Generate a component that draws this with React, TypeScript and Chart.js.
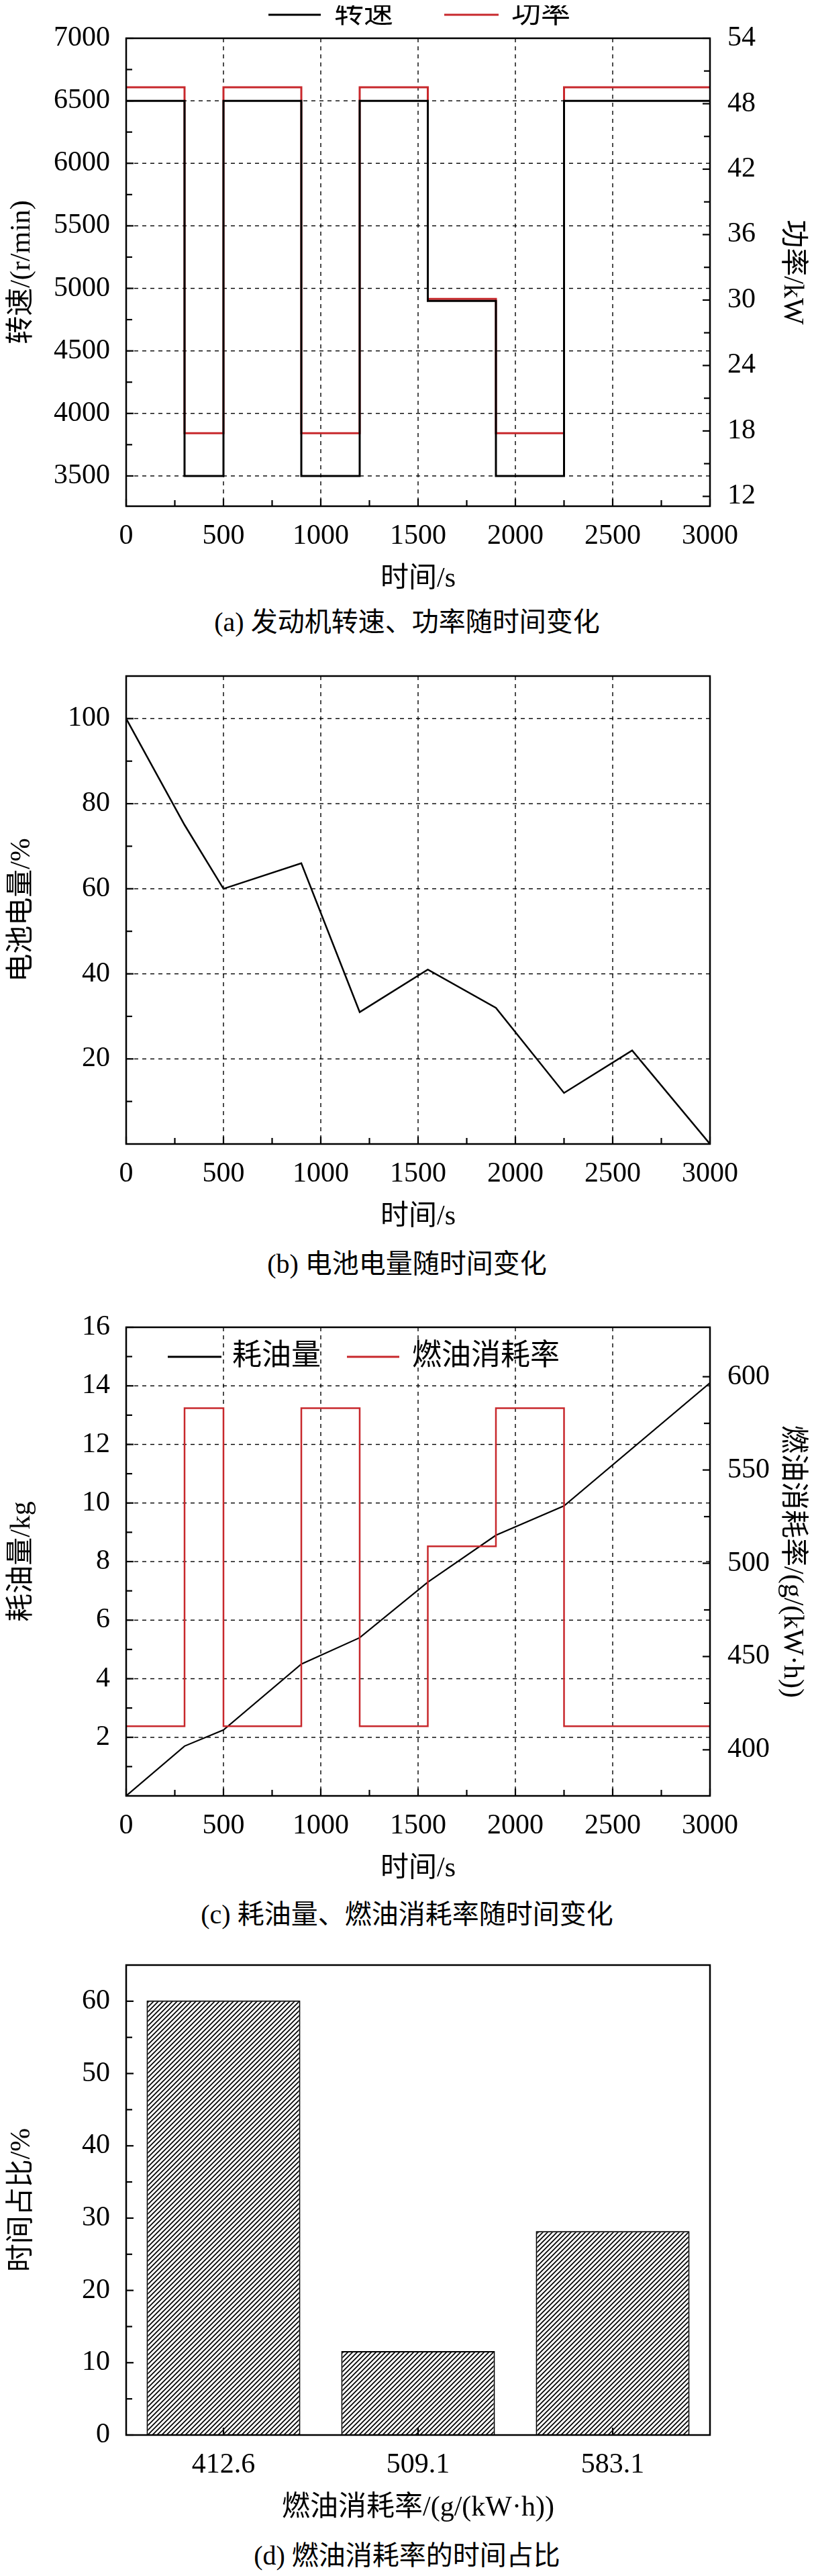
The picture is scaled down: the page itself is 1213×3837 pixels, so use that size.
import React, { useEffect, useRef } from "react";
import { Chart, registerables } from "chart.js";
Chart.register(...registerables);

const FONT = "'Liberation Serif','Noto Sans CJK SC',serif";
Chart.defaults.font.family = FONT;
Chart.defaults.color = "#000";

// ---- data ----
const timeTicks = [0, 500, 1000, 1500, 2000, 2500, 3000];
const timeMinor = [250, 750, 1250, 1750, 2250, 2750];
const stepTimes = [0, 300, 500, 900, 1200, 1550, 1900, 2250, 3000];
const speedValues = [6500, 6500, 3500, 6500, 3500, 6500, 4900, 3500, 6500];
const powerValues = [49.5, 49.5, 17.8, 49.5, 17.8, 49.5, 30.1, 17.8, 49.5];
const speedTicks = [3500, 4000, 4500, 5000, 5500, 6000, 6500, 7000];
const speedMinor = [3750, 4250, 4750, 5250, 5750, 6250, 6750];
const powerTicks = [12, 18, 24, 30, 36, 42, 48, 54];
const powerMinor = [15, 21, 27, 33, 39, 45, 51];

const socTimes = [0, 300, 500, 900, 1200, 1550, 1900, 2250, 2600, 3000];
const socValues = [100, 75, 60, 66, 31, 41, 32, 12, 22, 0];
const socTicks = [20, 40, 60, 80, 100];
const socMinor = [10, 30, 50, 70, 90];

const fuelTimes = [0, 300, 500, 900, 1200, 1550, 1900, 2250, 3000];
const fuelValues = [0, 1.7, 2.25, 4.5, 5.4, 7.3, 8.9, 9.9, 14.1];
const bsfcValues = [412.6, 412.6, 583.1, 412.6, 583.1, 412.6, 509.1, 583.1, 412.6];
const fuelTicks = [2, 4, 6, 8, 10, 12, 14, 16];
const fuelMinor = [1, 3, 5, 7, 9, 11, 13, 15];
const bsfcTicks = [400, 450, 500, 550, 600];
const bsfcMinor = [425, 475, 525, 575];

const barLabels = ["412.6", "509.1", "583.1"];
const barValues = [60.1, 11.6, 28.2];
const shareTicks = [0, 10, 20, 30, 40, 50, 60];
const shareMinor = [5, 15, 25, 35, 45, 55];

const RED = "#c8282c";
const W = 1197;

const pts = (xs: number[], ys: number[]) => xs.map((x, i) => ({ x, y: ys[i] }));
const setTicks = (vals: number[]) => (s: any) => {
  s.ticks = vals.map((v) => ({ value: v }));
};

const deco = {
  id: "deco",
  beforeDatasetsDraw(chart: any, _a: any, o: any) {
    const { ctx, chartArea: ca } = chart;
    ctx.save();
    ctx.strokeStyle = "#000";
    ctx.lineWidth = 1.4;
    ctx.setLineDash([6, 6]);
    (o.gridX || []).forEach((v: number) => {
      const x = chart.scales.x.getPixelForValue(v);
      ctx.beginPath(); ctx.moveTo(x, ca.top); ctx.lineTo(x, ca.bottom); ctx.stroke();
    });
    (o.gridY || []).forEach((v: number) => {
      const y = chart.scales.y.getPixelForValue(v);
      ctx.beginPath(); ctx.moveTo(ca.left, y); ctx.lineTo(ca.right, y); ctx.stroke();
    });
    ctx.restore();
  },
  afterDatasetsDraw(chart: any, _a: any, o: any) {
    const { ctx, chartArea: ca } = chart;
    ctx.save();
    ctx.strokeStyle = "#000";
    ctx.setLineDash([]);
    ctx.lineWidth = 2.2;
    (o.ticks || []).forEach((t: any) => {
      const sc = chart.scales[t.scale];
      const draw = (v: number, len: number) => {
        const p = sc.getPixelForValue(v);
        ctx.beginPath();
        if (t.side === "bottom") { ctx.moveTo(p, ca.bottom); ctx.lineTo(p, ca.bottom - len); }
        else if (t.side === "left") { ctx.moveTo(ca.left, p); ctx.lineTo(ca.left + len, p); }
        else { ctx.moveTo(ca.right, p); ctx.lineTo(ca.right - len, p); }
        ctx.stroke();
      };
      (t.major || []).forEach((v: number) => draw(v, 11));
      (t.minor || []).forEach((v: number) => draw(v, 9));
    });
    ctx.lineWidth = 2.5;
    ctx.strokeRect(ca.left, ca.top, ca.right - ca.left, ca.bottom - ca.top);
    ctx.restore();
  },
  afterDraw(chart: any, _a: any, o: any) {
    if (!o.legend) return;
    const { ctx } = chart;
    ctx.save();
    ctx.font = `44px ${FONT}`;
    ctx.textBaseline = "middle";
    ctx.fillStyle = "#000";
    o.legend.items.forEach((it: any) => {
      ctx.strokeStyle = it.color;
      ctx.lineWidth = 3;
      ctx.beginPath(); ctx.moveTo(it.x0, o.legend.y); ctx.lineTo(it.x1, o.legend.y); ctx.stroke();
      ctx.fillText(it.label, it.tx, o.legend.y);
    });
    ctx.restore();
  },
};

const tickFont = { size: 42, family: FONT };
const titleFont = { size: 42, family: FONT };
const plain = (v: any) => String(v);

const xTime = {
  type: "linear", min: 0, max: 3000,
  afterBuildTicks: setTicks(timeTicks),
  afterFit: (s: any) => { s.height = 134; },
  grid: { display: false }, border: { display: false },
  ticks: { font: tickFont, padding: 12, maxRotation: 0, callback: plain },
  title: { display: true, text: "时间/s", font: titleFont, padding: 0 },
};

const yBase = (min: number, max: number, ticks: number[], title: string, pos = "left") => ({
  type: "linear", min, max, position: pos,
  afterBuildTicks: setTicks(ticks),
  afterFit: (s: any) => { s.width = pos === "left" ? 180 : 147; },
  grid: { display: false }, border: { display: false },
  ticks: { font: tickFont, padding: pos === "left" ? 16 : 18, callback: plain },
  title: { display: true, text: title, font: titleFont, padding: 0 },
});

const lineDs = (label: string, data: any, color: string, width: number, axis = "y", stepped: any = false) => ({
  label, data, borderColor: color, borderWidth: width, pointRadius: 0, yAxisID: axis, stepped, fill: false,
});

const common = (top: number, right: number, decoOpts: any) => ({
  animation: false, responsive: false, maintainAspectRatio: false,
  layout: { padding: { top, left: 0, right, bottom: 0 } },
  plugins: { legend: { display: false }, tooltip: { enabled: false }, deco: decoOpts },
});

function configA(): any {
  return {
    type: "line",
    data: { datasets: [
      lineDs("转速", pts(stepTimes, speedValues), "#000", 3, "y", "after"),
      lineDs("功率", pts(stepTimes, powerValues), RED, 3, "y1", "after"),
    ] },
    options: {
      ...common(49, 0, {
        gridX: [500, 1000, 1500, 2000, 2500], gridY: [3500, 4000, 4500, 5000, 5500, 6000, 6500],
        ticks: [
          { scale: "x", side: "bottom", major: timeTicks, minor: timeMinor },
          { scale: "y", side: "left", major: speedTicks, minor: speedMinor },
          { scale: "y1", side: "right", major: powerTicks, minor: powerMinor },
        ],
        legend: { y: 14, items: [
          { label: "转速", color: "#000", x0: 392, x1: 470, tx: 490 },
          { label: "功率", color: RED, x0: 654, x1: 735, tx: 754 },
        ] },
      }),
      scales: { x: xTime, y: yBase(3258, 7000, speedTicks, "转速/(r/min)"), y1: yBase(11.1, 54, powerTicks, "功率/kW", "right") },
    },
  };
}

function configB(): any {
  return {
    type: "line",
    data: { datasets: [lineDs("电池电量", pts(socTimes, socValues), "#000", 2.5)] },
    options: {
      ...common(47, 147, {
        gridX: [500, 1000, 1500, 2000, 2500], gridY: socTicks,
        ticks: [
          { scale: "x", side: "bottom", major: timeTicks, minor: timeMinor },
          { scale: "y", side: "left", major: socTicks, minor: socMinor },
        ],
      }),
      scales: { x: xTime, y: yBase(0, 110, socTicks, "电池电量/%") },
    },
  };
}

function configC(): any {
  return {
    type: "line",
    data: { datasets: [
      lineDs("燃油消耗率", pts(stepTimes, bsfcValues), RED, 2.5, "y1", "after"),
      lineDs("耗油量", pts(fuelTimes, fuelValues), "#000", 2.2, "y"),
    ] },
    options: {
      ...common(57, 0, {
        gridX: [500, 1000, 1500, 2000, 2500], gridY: [2, 4, 6, 8, 10, 12, 14],
        ticks: [
          { scale: "x", side: "bottom", major: timeTicks, minor: timeMinor },
          { scale: "y", side: "left", major: fuelTicks, minor: fuelMinor },
          { scale: "y1", side: "right", major: bsfcTicks, minor: bsfcMinor },
        ],
        legend: { y: 101, items: [
          { label: "耗油量", color: "#000", x0: 242, x1: 322, tx: 338 },
          { label: "燃油消耗率", color: RED, x0: 509, x1: 587, tx: 606 },
        ] },
      }),
      scales: { x: xTime, y: yBase(0, 16, fuelTicks, "耗油量/kg"), y1: yBase(375.3, 626.5, bsfcTicks, "燃油消耗率/(g/(kW·h))", "right") },
    },
  };
}

function hatch(): any {
  const c = document.createElement("canvas");
  c.width = 7; c.height = 7;
  const g = c.getContext("2d")!;
  g.fillStyle = "#fff"; g.fillRect(0, 0, 7, 7);
  g.strokeStyle = "#000"; g.lineWidth = 1.7;
  g.beginPath();
  g.moveTo(-1, 8); g.lineTo(8, -1);
  g.moveTo(-1, 1); g.lineTo(1, -1);
  g.moveTo(6, 8); g.lineTo(8, 6);
  g.stroke();
  return g.createPattern(c, "repeat");
}

function configD(): any {
  return {
    type: "bar",
    data: { labels: barLabels, datasets: [{
      label: "时间占比", data: barValues, backgroundColor: hatch(), borderColor: "#000", borderWidth: 2,
      barPercentage: 0.79, categoryPercentage: 1,
    }] },
    options: {
      ...common(47, 147, {
        ticks: [
          { scale: "x", side: "bottom", major: [0, 1, 2] },
          { scale: "y", side: "left", major: shareTicks, minor: shareMinor },
        ],
      }),
      scales: {
        x: {
          type: "category", afterFit: (s: any) => { s.height = 134; },
          grid: { display: false }, border: { display: false },
          ticks: { font: tickFont, padding: 12 },
          title: { display: true, text: "燃油消耗率/(g/(kW·h))", font: titleFont, padding: 0 },
        },
        y: yBase(0, 65, shareTicks, "时间占比/%"),
      },
    },
  };
}

function Panel({ h, ch, cap, capTop, make }: { h: number; ch: number; cap: string; capTop: number; make: () => any }) {
  const ref = useRef<HTMLCanvasElement>(null);
  useEffect(() => {
    const chart = new Chart(ref.current!, { ...make(), plugins: [deco] });
    return () => chart.destroy();
  }, []);
  return (
    <div style={{ position: "relative", width: W, height: h }}>
      <canvas ref={ref} width={W} height={ch} style={{ display: "block", width: W, height: ch }} />
      <div style={{ position: "absolute", left: 0, width: W, top: capTop, textAlign: "center", font: `40px ${FONT}`, lineHeight: "48px" }}>{cap}</div>
    </div>
  );
}

export default function App() {
  return (
    <div style={{ background: "#fff" }}>
      <Panel h={952} ch={880} cap="(a) 发动机转速、功率随时间变化" capTop={895} make={configA} />
      <Panel h={960} ch={878} cap="(b) 电池电量随时间变化" capTop={899} make={configB} />
      <Panel h={960} ch={889} cap="(c) 耗油量、燃油消耗率随时间变化" capTop={908} make={configC} />
      <Panel h={957} ch={881} cap="(d) 燃油消耗率的时间占比" capTop={903} make={configD} />
    </div>
  );
}
